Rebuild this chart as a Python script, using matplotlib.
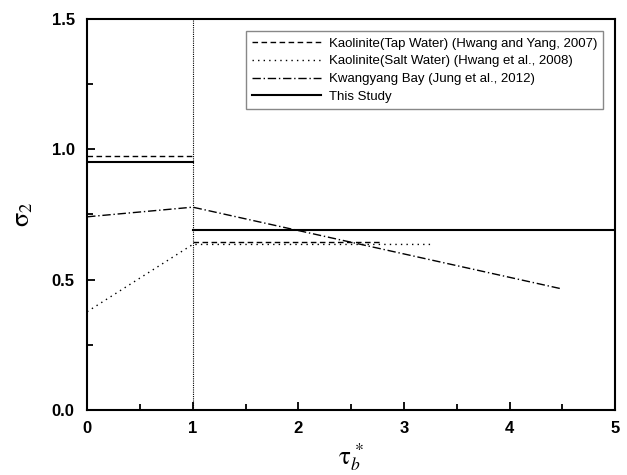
import matplotlib
matplotlib.use('Agg')
import matplotlib.pyplot as plt
from matplotlib.ticker import MultipleLocator

# --- data ---
tap_x = [0, 1, 1, 2.77]
tap_y = [0.974, 0.974, 0.643, 0.643]

salt_x = [0, 1, 3.28]
salt_y = [0.377, 0.635, 0.635]

kwang_x = [0, 1, 4.5]
kwang_y = [0.741, 0.778, 0.464]

study_x = [0, 1, 1, 5]
study_y = [0.953, 0.953, 0.69, 0.69]

labels = ['Kaolinite(Tap Water) (Hwang and Yang, 2007)',
          'Kaolinite(Salt Water) (Hwang et al., 2008)',
          'Kwangyang Bay (Jung et al., 2012)',
          'This Study']

plt.rcParams['font.family'] = ['Liberation Sans', 'DejaVu Sans']
plt.rcParams['mathtext.fontset'] = 'stix'

fig = plt.figure(figsize=(6.27, 4.75), dpi=100)
ax = fig.add_axes([0.139, 0.137, 0.842, 0.823])

# tap water: break the step so the vertical jump is not drawn
ax.plot(tap_x[:2], tap_y[:2], color='k', ls=(0, (4, 2.5)), lw=1.0, label=labels[0])
ax.plot(tap_x[2:], tap_y[2:], color='k', ls=(0, (4, 2.5)), lw=1.0)
ax.plot(salt_x, salt_y, color='k', ls=(0, (1, 3)), lw=1.0, label=labels[1])
ax.plot(kwang_x, kwang_y, color='k', ls=(0, (6, 2, 1, 2)), lw=1.0, label=labels[2])
ax.plot(study_x[:2], study_y[:2], color='k', ls='-', lw=1.5, label=labels[3])
ax.plot(study_x[2:], study_y[2:], color='k', ls='-', lw=1.5)
ax.axvline(1, color='k', ls=(0, (1, 1)), lw=0.8)

ax.set_xlim(0, 5)
ax.set_ylim(0, 1.5)
ax.xaxis.set_minor_locator(MultipleLocator(0.5))
ax.yaxis.set_minor_locator(MultipleLocator(0.25))
ax.tick_params(which='both', direction='in', width=1.3, top=False, right=False)
ax.tick_params(which='major', length=6, labelsize=12)
ax.tick_params(axis='y', which='major', pad=9)
ax.tick_params(axis='x', which='major', pad=8)
ax.tick_params(which='minor', length=4)
ax.set_xticks([0, 1, 2, 3, 4, 5])
ax.set_xticklabels(['0', '1', '2', '3', '4', '5'], fontweight='bold')
ax.set_yticks([0, 0.5, 1.0, 1.5])
ax.set_yticklabels(['0.0', '0.5', '1.0', '1.5'], fontweight='bold')
for s in ax.spines.values():
    s.set_linewidth(1.5)

ax.set_xlabel(r'$\mathrm{\tau}_{b}^{\,*}$', fontsize=18, labelpad=4)
ax.set_ylabel(r'$\mathrm{\sigma}_{2}$', fontsize=19, labelpad=12)

leg = ax.legend(loc='upper right', bbox_to_anchor=(0.99, 0.985), fontsize=9.5,
                handlelength=5.2, fancybox=False, framealpha=1,
                edgecolor='#888888', borderpad=0.45, labelspacing=0.42,
                handletextpad=0.6)
leg.get_frame().set_linewidth(1.0)

fig.savefig('out.png', dpi=100)
